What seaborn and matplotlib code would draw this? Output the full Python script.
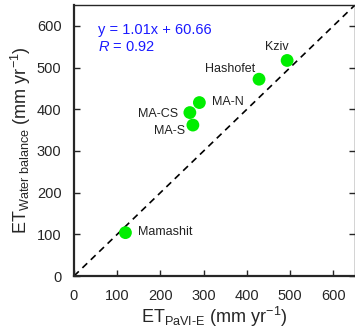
import numpy as np
import pandas as pd
import matplotlib
matplotlib.use('Agg')
import matplotlib.pyplot as plt
import seaborn as sns

# data
sites = ['Kziv', 'Hashofet', 'MA-N', 'MA-CS', 'MA-S', 'Mamashit']
et_pavi = [493, 428, 290, 268, 275, 119]
et_wb = [517, 472, 416, 392, 362, 104]

df = pd.DataFrame({'site': sites, 'pavi': et_pavi, 'wb': et_wb})

sns.set_style('ticks')
plt.rcParams['font.family'] = ['Liberation Sans', 'DejaVu Sans']
plt.rcParams['mathtext.fontset'] = 'custom'
plt.rcParams['mathtext.rm'] = 'Liberation Sans'
plt.rcParams['mathtext.it'] = 'Liberation Sans:italic'

fig = plt.figure(figsize=(3.55, 3.33), dpi=100)
ax = fig.add_axes([74 / 355, 57 / 333, 281 / 355, 271 / 333])

# 1:1 line
ax.plot([0, 650], [0, 650], ls=(0, (4, 3)), color='black', lw=1.2, zorder=1)

sns.scatterplot(data=df, x='pavi', y='wb', ax=ax, color='#00ee00',
                s=85, edgecolor='none', zorder=3, legend=False)

# label offsets (points)
offsets = {'Kziv': (-16, 10), 'Hashofet': (-39, 7), 'MA-N': (9, 0.5),
           'MA-CS': (-37, -1), 'MA-S': (-28, -4.5), 'Mamashit': (9, 0.5)}
for s, x, y in zip(sites, et_pavi, et_wb):
    dx, dy = offsets[s]
    ax.annotate(s, (x, y), xytext=(dx, dy), textcoords='offset points',
                fontsize=9, color='#222222', va='center', ha='left')

ax.text(0.085, 0.935, 'y = 1.01x + 60.66', transform=ax.transAxes,
        color='#1a1aff', fontsize=10.5, va='top')
ax.text(0.085, 0.87, '$\\mathit{R}$ = 0.92', transform=ax.transAxes,
        color='#1a1aff', fontsize=10.5, va='top')

ax.set_xlim(0, 650)
ax.set_ylim(0, 650)
ax.set_xticks(np.arange(0, 700, 100))
ax.set_yticks(np.arange(0, 700, 100))
ax.tick_params(direction='in', length=4, width=1, labelsize=10.5,
               right=True, top=False, pad=9)
for sp in ax.spines.values():
    sp.set_linewidth(1)
ax.spines['bottom'].set_linewidth(1.6)
ax.spines['left'].set_linewidth(1.6)

ax.set_xlabel('ET$_{\\mathregular{PaVI\\text{-}E}}$ (mm yr$^{-1}$)', fontsize=13, labelpad=2)
ax.set_ylabel('ET$_{\\mathregular{Water\\ balance}}$ (mm yr$^{-1}$)', fontsize=13, labelpad=3)

fig.savefig('out.png', dpi=100)
